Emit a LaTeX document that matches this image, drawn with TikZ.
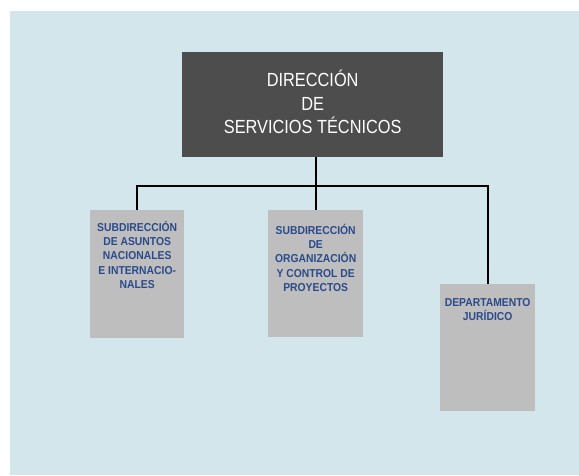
\documentclass[tikz,border=0pt]{standalone}
\usepackage{fontspec}
\setmainfont{Liberation Sans}
\newfontfamily\bigfont[FakeStretch=0.86]{Liberation Sans}
\newfontfamily\smallfont[FakeStretch=0.9]{Liberation Sans}
\definecolor{bgblue}{HTML}{D2E6EC}
\definecolor{darkbox}{HTML}{4D4D4D}
\definecolor{greybox}{HTML}{BEBEBE}
\definecolor{txtblue}{HTML}{2B4A8C}
\tikzset{
  headbox/.style={fill=darkbox, draw=none, minimum width=261pt, minimum height=105pt, inner sep=0pt, anchor=north west},
  unitbox/.style={fill=greybox, draw=none, minimum width=94pt, minimum height=128pt, inner sep=0pt, anchor=north west},
  headtxt/.style={text=white, align=center, inner sep=0pt, anchor=north, font=\bigfont\fontsize{19}{23.5}\selectfont},
  unittxt/.style={text=txtblue, align=center, inner sep=0pt, anchor=north, font=\smallfont\bfseries\fontsize{11.5}{14.3}\selectfont},
  link/.style={draw=black, line width=2pt}
}
\begin{document}
\begin{tikzpicture}[x=1pt,y=-1pt]
\useasboundingbox (0,0) rectangle (579,475);
\fill[white] (0,0) rectangle (579,475);
\fill[bgblue] (10,11) rectangle (579,475);
% boxes
\node[headbox] (head) at (182,52) {};
\node[unitbox] (b1) at (90,210) {};
\node[unitbox, minimum width=95pt, minimum height=127pt] (b2) at (268,210) {};
\node[unitbox, minimum width=95pt, minimum height=127pt] (b3) at (440,284) {};
% texts
\node[headtxt] (headt) at ([yshift=-18pt]head.north) {DIRECCIÓN\\DE\\SERVICIOS TÉCNICOS};
\node[unittxt] (t1) at ([yshift=-11pt]b1.north) {SUBDIRECCIÓN\\DE ASUNTOS\\NACIONALES\\E INTERNACIO-\\NALES};
\node[unittxt] (t2) at ([yshift=-14pt]b2.north) {SUBDIRECCIÓN\\DE\\ORGANIZACIÓN\\Y CONTROL DE\\PROYECTOS};
\node[unittxt] (t3) at ([yshift=-14pt]b3.north) {DEPARTAMENTO\\JURÍDICO};
% connectors
\coordinate (bus) at (0,186);
\draw[link] (b2.north |- head.south) -- (b2.north);
\draw[link] (b1.north) -- (b1.north |- bus) -- (b3.north |- bus) -- (b3.north);
\end{tikzpicture}
\end{document}
